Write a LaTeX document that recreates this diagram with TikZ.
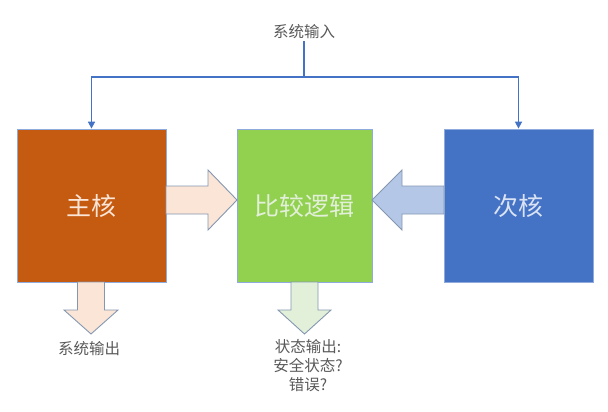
\documentclass[tikz,border=0pt]{standalone}
\usepackage{fontspec}
\setmainfont{Noto Sans CJK SC}
\usetikzlibrary{arrows.meta}
\definecolor{orangebox}{HTML}{C55A11}
\definecolor{greenbox}{HTML}{92D050}
\definecolor{bluebox}{HTML}{4472C4}
\definecolor{peach}{HTML}{FBE5D6}
\definecolor{lgreen}{HTML}{E2F0D9}
\definecolor{lblue}{HTML}{B4C7E7}
\definecolor{ltext}{HTML}{DAE3F3}
\definecolor{edge}{HTML}{8FAADC}
\definecolor{fatedge}{HTML}{8497B0}
\definecolor{txt}{HTML}{595959}
\tikzset{
  core/.style={draw=edge, line width=0.8pt, minimum height=153pt, inner sep=0pt,
    font=\fontsize{25}{28}\selectfont},
  label/.style={text=txt, font=\fontsize{15.5}{19}\selectfont, inner sep=2pt, align=center},
  feed/.style={draw=bluebox, line width=1.6pt},
  feedarrow/.style={feed, -{Triangle[width=7pt,length=7pt]}},
  fat/.style={draw=fatedge, line width=0.9pt, line join=miter}
}
\begin{document}
\begin{tikzpicture}[x=1pt,y=-1pt]
\useasboundingbox (0,0) rectangle (608,412);
\node[core, fill=orangebox, text=peach, minimum width=149pt] (main) at (91.5,205.5) {主核};
\node[core, fill=greenbox, text=lgreen, minimum width=135pt] (cmp) at (304.5,205.5) {比较逻辑};
\node[core, fill=bluebox, text=ltext, minimum width=149pt] (sub) at (518.5,205.5) {次核};
\node[label] (in) at (304,32) {系统输入};
\coordinate (j) at (304,77);
\draw[feed] (in.south) -- (j);
\draw[feedarrow] (j) -| (main.north);
\draw[feedarrow] (j) -| (sub.north);
% fat arrows
\draw[fat, fill=peach] (166,186) -- (208,186) -- (208,170) -- (237,200) -- (208,230) -- (208,214) -- (166,214) -- cycle;
\draw[fat, fill=lblue] (444,186) -- (402,186) -- (402,170) -- (372,200) -- (402,230) -- (402,214) -- (444,214) -- cycle;
\draw[fat, fill=peach] (77.5,282) -- (77.5,310) -- (64,310) -- (91,334) -- (118,310) -- (104.5,310) -- (104.5,282) -- cycle;
\draw[fat, fill=lgreen] (291,282) -- (291,310) -- (278,310) -- (304.5,334) -- (331,310) -- (318,310) -- (318,282) -- cycle;
\node[label] (out1) at (89,349) {系统输出};
\node[label] (out2) at (308,366) {状态输出:\\安全状态?\\错误?};
\end{tikzpicture}
\end{document}
